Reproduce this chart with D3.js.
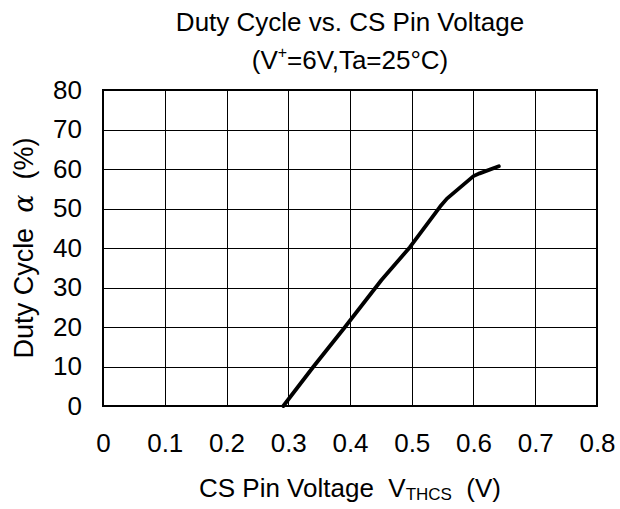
<!DOCTYPE html>
<html>
<head>
<meta charset="utf-8">
<script src="https://cdn.jsdelivr.net/npm/d3@7"></script>
<style>
  html, body { margin: 0; padding: 0; background: #fff; }
  svg { display: block; font-family: "Liberation Sans", Arial, sans-serif; }
</style>
</head>
<body>
<svg id="chart" width="620" height="509"></svg>
<script>
// Data
const voltage = [0.292, 0.341, 0.391, 0.451, 0.497, 0.546, 0.557, 0.600, 0.610, 0.641];
const duty    = [0,     10,    19.8,  31.9,  40.2,  50.5,  52.5,  58.2,  58.9,  60.7];
const xTicks = [0, 0.1, 0.2, 0.3, 0.4, 0.5, 0.6, 0.7, 0.8];
const yTicks = [0, 10, 20, 30, 40, 50, 60, 70, 80];
const xTickLabels = ["0", "0.1", "0.2", "0.3", "0.4", "0.5", "0.6", "0.7", "0.8"];
const yTickLabels = ["0", "10", "20", "30", "40", "50", "60", "70", "80"];

(function () {
const svg = d3.select("#chart");
const pLeft = 103, pRight = 597, pTop = 90, pBottom = 406;
const FS = 26;

const x = d3.scaleLinear().domain([0, 0.8]).range([pLeft, pRight]);
const y = d3.scaleLinear().domain([0, 80]).range([pBottom, pTop]);

// Grid
const grid = svg.append("g");
grid.selectAll("line.v").data(xTicks).join("line").attr("class", "v")
  .attr("x1", d => Math.round(x(d)) + 0.5).attr("x2", d => Math.round(x(d)) + 0.5)
  .attr("y1", pTop).attr("y2", pBottom)
  .attr("stroke", "#000").attr("stroke-width", 1);
grid.selectAll("line.h").data(yTicks).join("line").attr("class", "h")
  .attr("y1", d => Math.round(y(d)) + 0.5).attr("y2", d => Math.round(y(d)) + 0.5)
  .attr("x1", pLeft).attr("x2", pRight)
  .attr("stroke", "#000").attr("stroke-width", 1);

// Frame
svg.append("rect").attr("x", pLeft).attr("y", pTop)
  .attr("width", pRight - pLeft).attr("height", pBottom - pTop)
  .attr("fill", "none").attr("stroke", "#000").attr("stroke-width", 2);

// Axes (labels only)
const xAxis = d3.axisBottom(x).tickValues(xTicks)
  .tickFormat((d, i) => xTickLabels[i]).tickSize(0).tickPadding(0);
const gx = svg.append("g").attr("transform", `translate(0,${pBottom + 28})`).call(xAxis);
gx.select(".domain").remove();
gx.selectAll("text").attr("font-size", FS).attr("fill", "#000")
  .attr("font-family", "'Liberation Sans', Arial, sans-serif");

const yAxis = d3.axisLeft(y).tickValues(yTicks)
  .tickFormat((d, i) => yTickLabels[i]).tickSize(0).tickPadding(21);
const gy = svg.append("g").attr("transform", `translate(${pLeft},0)`).call(yAxis);
gy.select(".domain").remove();
gy.selectAll("text").attr("font-size", FS).attr("fill", "#000")
  .attr("font-family", "'Liberation Sans', Arial, sans-serif");

// Curve
const line = d3.line().x((d, i) => x(voltage[i])).y(d => y(d));
svg.append("path").datum(duty).attr("d", line)
  .attr("fill", "none").attr("stroke", "#000").attr("stroke-width", 3.8)
  .attr("stroke-linecap", "round").attr("stroke-linejoin", "round");

// Title
const cx = (pLeft + pRight) / 2;
svg.append("text").attr("x", cx).attr("y", 31).attr("text-anchor", "middle")
  .attr("font-size", FS).text("Duty Cycle vs. CS Pin Voltage");
const t2 = svg.append("text").attr("x", cx).attr("y", 69).attr("text-anchor", "middle")
  .attr("font-size", FS);
t2.append("tspan").text("(V");
t2.append("tspan").attr("font-size", 16).attr("dy", -11).text("+");
t2.append("tspan").attr("dy", 11).text("=6V,Ta=25°C)");

// X axis title
const xt = svg.append("text").attr("x", cx).attr("y", 497).attr("text-anchor", "middle")
  .attr("font-size", FS).attr("xml:space", "preserve");
xt.append("tspan").text("CS Pin Voltage  V");
xt.append("tspan").attr("font-size", 17).attr("dy", 3).text("THCS");
xt.append("tspan").attr("dy", -3).text("  (V)");

// Y axis title
const yt = svg.append("text").attr("transform", `translate(33,${(pTop + pBottom) / 2}) rotate(-90)`)
  .attr("text-anchor", "middle").attr("font-size", 27).attr("xml:space", "preserve");
yt.append("tspan").text("Duty Cycle  ");
yt.append("tspan").attr("font-family", "'DejaVu Serif', serif").attr("font-style", "italic").text("α");
yt.append("tspan").text("  (%)");
})();
</script>
</body>
</html>
